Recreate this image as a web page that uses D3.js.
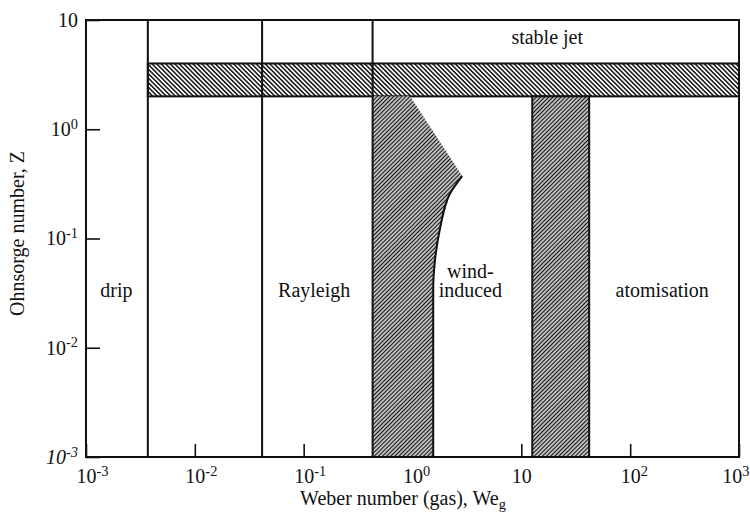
<!DOCTYPE html>
<html>
<head>
<meta charset="utf-8">
<script src="https://cdn.jsdelivr.net/npm/d3@7"></script>
<style>
  body { margin: 0; background: #fff; }
  text { font-family: 'Liberation Serif', 'Times New Roman', serif; fill: #111; }
</style>
</head>
<body>
<div id="chart"></div>
<script>
const width = 750;
const height = 515;
const plot = { left: 86, right: 739, top: 20, bottom: 457 };
const fontSize = 20;

// axis ticks (base, exponent)
const xTicks = [1e-3, 1e-2, 1e-1, 1, 10, 100, 1000];
const xTickLabels = [['10', '-3'], ['10', '-2'], ['10', '-1'], ['10', '0'], ['10', ''], ['10', '2'], ['10', '3']];
const yTicks = [1e-3, 1e-2, 1e-1, 1, 10];
const yTickLabels = [['10', '-3'], ['10', '-2'], ['10', '-1'], ['10', '0'], ['10', '']];

// regime boundaries (Weber number) drawn full height
const regimeBounds = [0.0037, 0.0415, 0.43];

// stable jet transition band
const stableBandWe = [0.0037, 1000];
const stableBandZ = [2, 4];

// wind-induced / atomisation transition band
const atomBandWe = [12.6, 42];
const atomBandZ = [0.001, 2];

// Rayleigh / wind-induced transition region [We, Z]
const windBand = [
  [0.43, 2], [0.95, 2], [2.86, 0.373], [2.22, 0.26], [1.8, 0.127],
  [1.61, 0.0635], [1.55, 0.034], [1.55, 0.001], [0.43, 0.001],
];
const windEdge = [
  [2.86, 0.373], [2.22, 0.26], [1.8, 0.127], [1.61, 0.0635], [1.55, 0.034], [1.55, 0.001],
];

// regime labels [lines, We, Z of last baseline]
const regimeLabels = [
  [['drip'], 0.0019, 0.029],
  [['Rayleigh'], 0.125, 0.029],
  [['wind-', 'induced'], 3.4, 0.029],
  [['atomisation'], 197, 0.029],
  [['stable jet'], 17.3, 6.0],
];

const svg = d3.select('#chart').append('svg')
  .attr('width', width)
  .attr('height', height);

const x = d3.scaleLog().domain([1e-3, 1e3]).range([plot.left, plot.right]);
const y = d3.scaleLog().domain([1e-3, 10]).range([plot.bottom, plot.top]);

// hatch patterns
const defs = svg.append('defs');
function addHatch(id, angle, gap) {
  const p = defs.append('pattern')
    .attr('id', id)
    .attr('patternUnits', 'userSpaceOnUse')
    .attr('width', 6)
    .attr('height', gap)
    .attr('patternTransform', `rotate(${angle})`);
  p.append('rect').attr('width', 6).attr('height', gap).attr('fill', '#fff');
  p.append('line')
    .attr('x1', 0).attr('x2', 6)
    .attr('y1', gap / 2).attr('y2', gap / 2)
    .attr('stroke', '#111')
    .attr('stroke-width', 1.5);
}
addHatch('hatchBack', 45, 3.2);
addHatch('hatchFwd', -45, 2.9);

function supLabel(sel, parts) {
  sel.text(parts[0]);
  if (parts[1]) {
    sel.append('tspan')
      .attr('dy', '-0.5em')
      .attr('font-size', '0.72em')
      .text(parts[1]);
  }
}

// axes (ticks point inward)
const xAxis = svg.append('g')
  .attr('transform', `translate(0,${plot.bottom})`)
  .call(d3.axisBottom(x).tickValues(xTicks).tickSizeInner(-13).tickSizeOuter(0).tickPadding(12));
xAxis.select('.domain').remove();
xAxis.selectAll('line').attr('stroke', '#111').attr('stroke-width', 1.6);
xAxis.selectAll('text')
  .attr('font-size', fontSize)
  .attr('font-family', "'Liberation Serif', serif")
  .attr('fill', '#111')
  .attr('text-anchor', 'start')
  .attr('dx', -fontSize / 2)
  .each(function (d, i) {
    supLabel(d3.select(this), xTickLabels[i]);
    // keep the last label inside the picture
    const b = this.getBBox();
    const over = x(d) + b.x + b.width - (width - 1);
    if (over > 0) d3.select(this).attr('dx', -fontSize / 2 - over);
  });

const yAxis = svg.append('g')
  .attr('transform', `translate(${plot.left},0)`)
  .call(d3.axisLeft(y).tickValues(yTicks).tickSizeInner(-14).tickSizeOuter(0).tickPadding(8));
yAxis.select('.domain').remove();
yAxis.selectAll('line').attr('stroke', '#111').attr('stroke-width', 1.6);
yAxis.selectAll('text')
  .attr('font-size', fontSize)
  .attr('font-family', "'Liberation Serif', serif")
  .attr('fill', '#111')
  .attr('font-style', (d, i) => (i === 0 ? 'italic' : null))
  .each(function (d, i) { supLabel(d3.select(this), yTickLabels[i]); });

// bands
svg.append('rect')
  .attr('x', x(stableBandWe[0]))
  .attr('y', y(stableBandZ[1]))
  .attr('width', x(stableBandWe[1]) - x(stableBandWe[0]))
  .attr('height', y(stableBandZ[0]) - y(stableBandZ[1]))
  .attr('fill', 'url(#hatchBack)')
  .attr('stroke', '#111')
  .attr('stroke-width', 2);

svg.append('rect')
  .attr('x', x(atomBandWe[0]))
  .attr('y', y(atomBandZ[1]))
  .attr('width', x(atomBandWe[1]) - x(atomBandWe[0]))
  .attr('height', y(atomBandZ[0]) - y(atomBandZ[1]))
  .attr('fill', 'url(#hatchFwd)')
  .attr('stroke', '#111')
  .attr('stroke-width', 2);

svg.append('path')
  .datum(windBand)
  .attr('d', d3.line().x(d => x(d[0])).y(d => y(d[1])))
  .attr('fill', 'url(#hatchFwd)')
  .attr('stroke', 'none');

svg.append('path')
  .datum(windEdge)
  .attr('d', d3.line().x(d => x(d[0])).y(d => y(d[1])).curve(d3.curveMonotoneY))
  .attr('fill', 'none')
  .attr('stroke', '#111')
  .attr('stroke-width', 2);

// regime boundaries
svg.append('g').selectAll('line')
  .data(regimeBounds)
  .enter()
  .append('line')
  .attr('x1', d => x(d))
  .attr('x2', d => x(d))
  .attr('y1', plot.top)
  .attr('y2', plot.bottom)
  .attr('stroke', '#111')
  .attr('stroke-width', 2);

// frame
svg.append('rect')
  .attr('x', plot.left)
  .attr('y', plot.top)
  .attr('width', plot.right - plot.left)
  .attr('height', plot.bottom - plot.top)
  .attr('fill', 'none')
  .attr('stroke', '#111')
  .attr('stroke-width', 2);

// regime labels (multi-line labels stack upward from the last baseline)
const lineGap = 19;
svg.append('g').selectAll('text')
  .data(regimeLabels)
  .enter()
  .append('text')
  .attr('text-anchor', 'middle')
  .attr('font-size', fontSize)
  .each(function (d) {
    const t = d3.select(this);
    const x0 = x(d[1]);
    const y0 = y(d[2]) - (d[0].length - 1) * lineGap;
    d[0].forEach((line, i) => {
      t.append('tspan')
        .attr('x', x0)
        .attr('y', y0 + i * lineGap)
        .text(line);
    });
  });

// axis titles
const xTitle = svg.append('text')
  .attr('x', 403)
  .attr('y', 505)
  .attr('text-anchor', 'middle')
  .attr('font-size', fontSize)
  .text('Weber number (gas), We');
xTitle.append('tspan')
  .attr('dy', '0.3em')
  .attr('font-size', '0.72em')
  .text('g');

svg.append('text')
  .attr('transform', `translate(24,${(plot.top + plot.bottom) / 2 - 5}) rotate(-90)`)
  .attr('text-anchor', 'middle')
  .attr('font-size', fontSize)
  .text('Ohnsorge number, Z');
</script>
</body>
</html>
